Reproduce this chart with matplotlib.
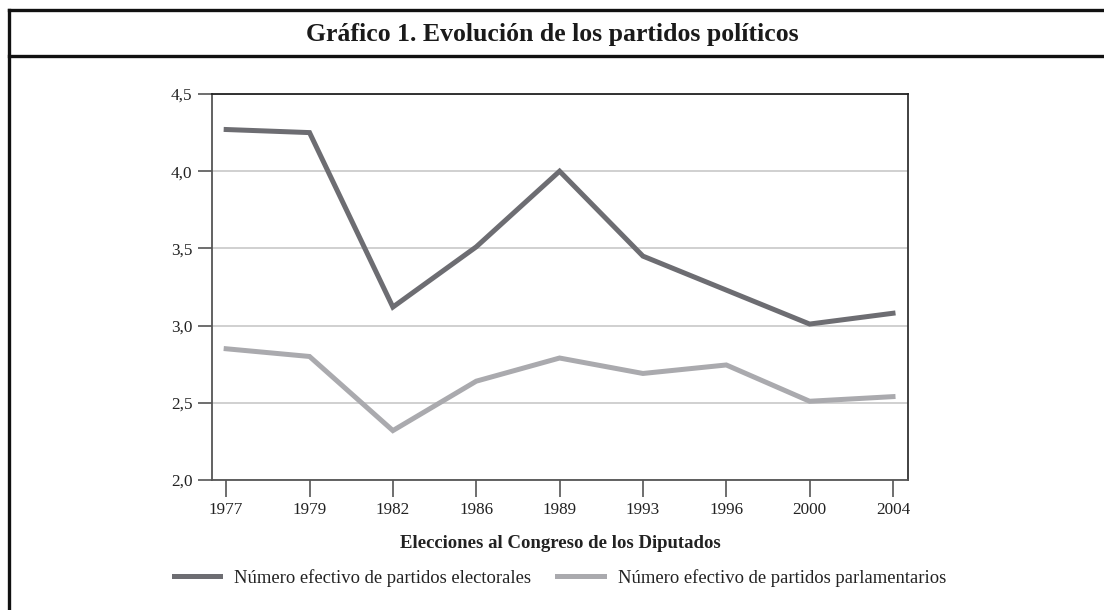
import matplotlib
matplotlib.use("Agg")
import matplotlib.pyplot as plt
from matplotlib.lines import Line2D

plt.rcParams['font.family'] = ['Liberation Serif', 'DejaVu Serif']

# data
years = ["1977", "1979", "1982", "1986", "1989", "1993", "1996", "2000", "2004"]
electorales = [4.27, 4.25, 3.12, 3.51, 4.00, 3.45, 3.23, 3.01, 3.08]
parlamentarios = [2.85, 2.80, 2.32, 2.64, 2.79, 2.69, 2.745, 2.51, 2.54]
yticks = [2.0, 2.5, 3.0, 3.5, 4.0, 4.5]

W, H = 1104, 610
fig = plt.figure(figsize=(W / 100, H / 100), dpi=100)

def px(x, y):
    return x / W, 1 - y / H

# frame round the chart: top, left, and the line under the title
for (x0, y0), (x1, y1) in [((9, 10), (W, 10)), ((9, 10), (9, H)), ((9, 56), (W, 56))]:
    a, b = px(x0, y0)
    c, d = px(x1, y1)
    fig.add_artist(Line2D([a, c], [b, d], transform=fig.transFigure, color="#111111", lw=2.4))

fig.text(0.5, px(0, 34)[1], "Gráfico 1. Evolución de los partidos políticos",
         ha="center", va="center", fontsize=18.5, fontweight="bold", color="#1a1a1a")

left, top = px(212, 94)
right, bottom = px(908, 480)
ax = fig.add_axes([left, bottom, right - left, top - bottom])

x = list(range(len(years)))
ax.plot(x, electorales, color="#6d6d72", lw=3.6, solid_joinstyle="miter",
        label="Número efectivo de partidos electorales")
ax.plot(x, parlamentarios, color="#aaaaae", lw=3.6, solid_joinstyle="miter",
        label="Número efectivo de partidos parlamentarios")

ax.set_xlim(-0.17, 8.18)
ax.set_ylim(2.0, 4.5)
ax.set_xticks(x)
ax.set_xticklabels(years)
ax.set_yticks(yticks)
ax.set_yticklabels([f"{v:.1f}".replace(".", ",") for v in yticks])
ax.yaxis.grid(True, color="#c8c8c8", lw=1.2)
ax.set_axisbelow(True)

ax.tick_params(axis="y", length=10, width=1.2, color="#555555", labelsize=12.3, pad=4, labelcolor="#222222")
ax.tick_params(axis="x", length=12, width=1.2, color="#555555", labelsize=12.3, pad=4, labelcolor="#222222")
ax.spines["left"].set_color("#555555")
ax.spines["bottom"].set_color("#555555")
ax.spines["top"].set_color("#222222")
ax.spines["right"].set_color("#333333")
for s in ax.spines.values():
    s.set_linewidth(1.3)

ax.set_xlabel("Elecciones al Congreso de los Diputados", fontsize=13.5, fontweight="bold",
              color="#222222", labelpad=12)

fig.legend(loc="center", bbox_to_anchor=(560 / W, px(0, 578)[1]), ncol=2,
           frameon=False, fontsize=13.4, handlelength=2.5, columnspacing=1.4,
           handletextpad=0.75, labelcolor="#222222")

fig.savefig("out.png", dpi=100)
